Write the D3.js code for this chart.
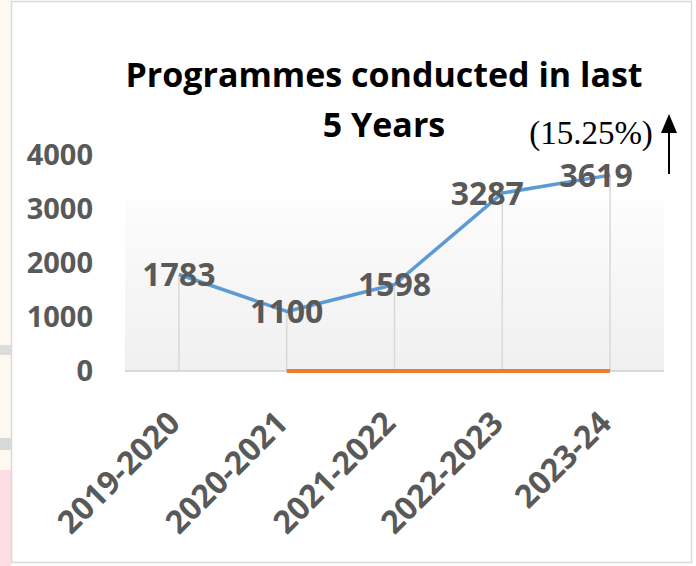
<!DOCTYPE html>
<html>
<head>
<meta charset="utf-8">
<script src="https://cdn.jsdelivr.net/npm/d3@7"></script>
<style>
  body { margin: 0; background: #fff; }
  svg text { font-family: "Open Sans", sans-serif; }
</style>
</head>
<body>
<div id="chart"></div>
<script>
const w = 696;
const h = 566;

const categories = ["2019-2020", "2020-2021", "2021-2022", "2022-2023", "2023-24"];
const programmes = [1783, 1100, 1598, 3287, 3619];
const secondSeries = [null, 0, 0, 0, 0];
const yTicks = [0, 1000, 2000, 3000, 4000];
const titleLines = ["Programmes conducted in last", "5 Years"];
const growthLabel = "(15.25%)";

// label nudges, some labels were dragged left in the original
const labelShift = [0, 0, 0, -15, -14];

const plot = { left: 125, right: 664, top: 154.5, bottom: 371 };

const svg = d3.select("#chart")
    .append("svg")
    .attr("width", w)
    .attr("height", h);

// bits of the page behind the chart on the left edge
svg.append("rect").attr("x", 0).attr("y", 0).attr("width", 11).attr("height", h).style("fill", "#fdf9f0");
svg.append("rect").attr("x", 0).attr("y", 345).attr("width", 11).attr("height", 10).style("fill", "#dcdcdc");
svg.append("rect").attr("x", 0).attr("y", 438).attr("width", 11).attr("height", 12).style("fill", "#d8d8d8");
svg.append("rect").attr("x", 0).attr("y", 470).attr("width", 11).attr("height", 96).style("fill", "#fcdde3");

svg.append("rect")
    .attr("x", 11.5)
    .attr("y", 1.5)
    .attr("width", 680)
    .attr("height", 561)
    .style("fill", "#fff")
    .style("stroke", "#d9d9d9")
    .style("stroke-width", 1.5);

const x = d3.scaleBand()
    .domain(categories)
    .range([plot.left, plot.right]);

const y = d3.scaleLinear()
    .domain([0, 4000])
    .range([plot.bottom, plot.top]);

const cx = d => x(d) + x.bandwidth() / 2;

const grad = svg.append("defs").append("linearGradient")
    .attr("id", "plotGrad")
    .attr("x1", 0).attr("y1", 0).attr("x2", 0).attr("y2", 1);
grad.append("stop").attr("offset", "0").attr("stop-color", "#ffffff");
grad.append("stop").attr("offset", "0.21").attr("stop-color", "#ffffff");
grad.append("stop").attr("offset", "0.215").attr("stop-color", "#fcfcfc");
grad.append("stop").attr("offset", "1").attr("stop-color", "#f0f0f0");

svg.append("rect")
    .attr("x", plot.left)
    .attr("y", y(4000))
    .attr("width", plot.right - plot.left)
    .attr("height", y(0) - y(4000))
    .style("fill", "url(#plotGrad)");

// title
svg.append("text")
    .attr("text-anchor", "middle")
    .style("font-size", "34px")
    .style("font-weight", "bold")
    .style("fill", "#000")
    .selectAll("tspan")
    .data(titleLines)
    .enter()
    .append("tspan")
    .attr("x", 384)
    .attr("y", (d, i) => 87 + 50 * i)
    .text(d => d);

// y axis labels
svg.selectAll(".ytick")
    .data(yTicks)
    .enter()
    .append("text")
    .attr("class", "ytick")
    .attr("x", plot.left - 32)
    .attr("y", d => y(d))
    .attr("dy", "0.35em")
    .attr("text-anchor", "end")
    .style("font-size", "29px")
    .style("font-weight", "bold")
    .style("fill", "#595959")
    .text(d => d);

// drop lines
svg.selectAll(".drop")
    .data(categories)
    .enter()
    .append("line")
    .attr("class", "drop")
    .attr("x1", d => cx(d))
    .attr("x2", d => cx(d))
    .attr("y1", (d, i) => y(programmes[i]))
    .attr("y2", y(0))
    .style("stroke", "#d9d9d9")
    .style("stroke-width", 1.5);

// x axis line
svg.append("line")
    .attr("x1", plot.left)
    .attr("x2", plot.right)
    .attr("y1", y(0))
    .attr("y2", y(0))
    .style("stroke", "#d9d9d9")
    .style("stroke-width", 2);

const line = d3.line()
    .defined(d => d.v !== null)
    .x(d => cx(d.c))
    .y(d => y(d.v));

svg.append("path")
    .datum(categories.map((c, i) => ({c: c, v: secondSeries[i]})))
    .attr("d", line)
    .style("fill", "none")
    .style("stroke", "#ed7d31")
    .style("stroke-width", 4);

svg.append("path")
    .datum(categories.map((c, i) => ({c: c, v: programmes[i]})))
    .attr("d", line)
    .style("fill", "none")
    .style("stroke", "#5b9bd5")
    .style("stroke-width", 3.5)
    .style("stroke-linejoin", "round");

// data labels
svg.selectAll(".vlabel")
    .data(programmes)
    .enter()
    .append("text")
    .attr("class", "vlabel")
    .attr("x", (d, i) => cx(categories[i]) + labelShift[i])
    .attr("y", d => y(d))
    .attr("dy", "0.36em")
    .attr("text-anchor", "middle")
    .style("font-size", "32px")
    .style("font-weight", "bold")
    .style("fill", "#595959")
    .text(d => d);

// category labels
svg.selectAll(".xlabel")
    .data(categories)
    .enter()
    .append("text")
    .attr("class", "xlabel")
    .attr("transform", d => `translate(${cx(d) + 3},${y(0) + 54}) rotate(-45)`)
    .attr("text-anchor", "end")
    .style("font-size", "32px")
    .style("font-weight", "bold")
    .style("fill", "#595959")
    .text(d => d);

// growth note and arrow
svg.append("text")
    .attr("x", 591)
    .attr("y", 144)
    .attr("text-anchor", "middle")
    .style("font-family", "'Liberation Serif', serif")
    .style("font-size", "33px")
    .style("fill", "#000")
    .text(growthLabel);

svg.append("line")
    .attr("x1", 669).attr("x2", 669)
    .attr("y1", 174).attr("y2", 130)
    .style("stroke", "#000")
    .style("stroke-width", 2);

svg.append("path")
    .attr("d", "M669,114 L661,133 L677,133 Z")
    .style("fill", "#000");
</script>
</body>
</html>
